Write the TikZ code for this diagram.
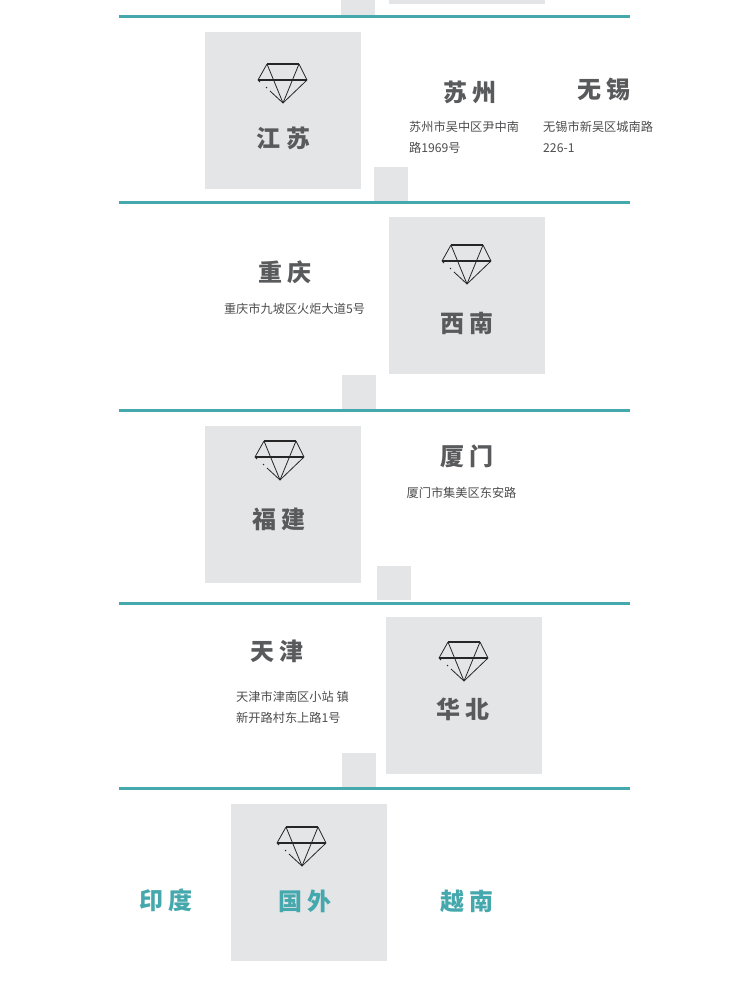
\documentclass[tikz,border=0pt]{standalone}
\usepackage{fontspec}
\usepackage{xcolor}
\setmainfont{Noto Sans CJK SC}
\usetikzlibrary{positioning}
\definecolor{ruleteal}{HTML}{45A8AD}
\definecolor{boxgrey}{HTML}{E4E5E7}
\definecolor{textgrey}{HTML}{595A5C}
\tikzset{
    region/.style={fill=boxgrey, minimum width=156pt, minimum height=157pt, inner sep=0pt},
    tab/.style={fill=boxgrey, minimum width=34pt, minimum height=34pt, inner sep=0pt},
    heading/.style={font=\fontsize{24}{24}\selectfont\bfseries, text=textgrey, inner sep=0pt},
    overseas/.style={heading, text=ruleteal},
    address/.style={font=\fontsize{12.2}{21}\selectfont, text=textgrey!85!black, inner sep=0pt, align=left},
    gem/.pic={
        \draw[line width=1.5pt, black!85] (-16,0) -- (16,0);
        \draw[line width=1.5pt, black!85] (-25,16) -- (24,16);
        \draw[line width=0.8pt, black!85] (-16,0) -- (-25,16);
        \draw[line width=0.8pt, black!85] (16,0) -- (24,16);
        \draw[line width=0.8pt, black!85] (-16,0) -- (0,39);
        \draw[line width=0.8pt, black!85] (16,0) -- (0,39);
        \draw[line width=0.8pt, black!85] (24,16) -- (0,39);
        \draw[line width=0.8pt, black!85] (0,39) -- (-13,27);
        \draw[line width=0.8pt, black!85] (-16,24) -- (-17,23);
        \draw[line width=0.8pt, black!85] (-23,18) -- (-25,16);
    }
}
\begin{document}
\begin{tikzpicture}[x=1pt, y=-1pt]
    \useasboundingbox (0,0) rectangle (750,992);
    % rules
    \foreach \ypos in {16.5,202.5,410.5,603.5,788.5}
        \draw[ruleteal, line width=3pt] (119,\ypos) -- (630,\ypos);
    % small tabs
    \fill[boxgrey] (341,0) rectangle (375,15);
    \fill[boxgrey] (389,0) rectangle (545,4);
    \node[tab] (tabjs) at (391,184) {};
    \node[tab] (tabxn) at (359,392) {};
    \node[tab] (tabfj) at (394,583) {};
    \node[tab] (tabhb) at (359,770) {};
    % regions
    \node[region] (jiangsu) at (283,110.5) {};
    \node[region] (xinan) at (467,295.5) {};
    \node[region] (fujian) at (283,504.5) {};
    \node[region] (huabei) at (464,695.5) {};
    \node[region] (guowai) at (309,882.5) {};
    \pic at (283,64) {gem};
    \pic at (467,245) {gem};
    \pic at (280,441) {gem};
    \pic at (464,642) {gem};
    \pic at (302,827) {gem};
    \node[heading] (njiangsu) at (283.5,138.5) {江 苏};
    \node[heading] (nxinan) at (467,323.5) {西 南};
    \node[heading] (nfujian) at (279,519.5) {福 建};
    \node[heading] (nhuabei) at (463,709.5) {华 北};
    \node[overseas] (nguowai) at (305,901.5) {国 外};
    % cities
    \node[heading] (suzhou) at (470,92.5) {苏 州};
    \node[heading] (wuxi) at (604,89.5) {无 锡};
    \node[heading] (chongqing) at (285,272.5) {重 庆};
    \node[heading] (xiamen) at (467,456.5) {厦 门};
    \node[heading] (tianjin) at (277,651.5) {天 津};
    \node[overseas] (yindu) at (166,900.5) {印 度};
    \node[overseas] (yuenan) at (467,901.5) {越 南};
    % addresses
    \node[address, anchor=north west] (addrsz) at (409,120.5) {苏州市吴中区尹中南\\路1969号};
    \node[address, anchor=north west] (addrwx) at (543,120.5) {无锡市新吴区城南路\\226-1};
    \node[address, anchor=center] (addrcq) at (294.5,309) {重庆市九坡区火炬大道5号};
    \node[address, anchor=center] (addrxm) at (461.5,493) {厦门市集美区东安路};
    \node[address, anchor=north west] (addrtj) at (236,690.5) {天津市津南区小站 镇\\新开路村东上路1号};
\end{tikzpicture}
\end{document}
